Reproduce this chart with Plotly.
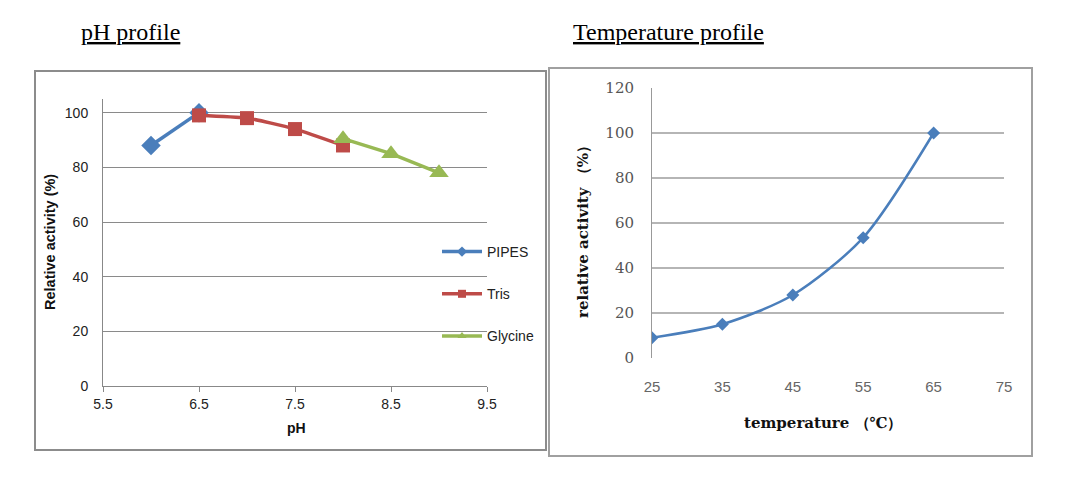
import plotly.graph_objects as go

W, H = 1065, 488
def px(x): return x / W
def py(y): return 1 - y / H

# ---- data: pH profile ----
pipes_ph = [6.0, 6.5]
pipes_act = [88, 100]
tris_ph = [6.5, 7.0, 7.5, 8.0]
tris_act = [99, 98, 94, 88]
gly_ph = [8.0, 8.5, 9.0]
gly_act = [90.5, 85, 78]
ph_ticks = [5.5, 6.5, 7.5, 8.5, 9.5]
ph_ytick = [0, 20, 40, 60, 80, 100]
series_names = ["PIPES", "Tris", "Glycine"]

# ---- data: temperature profile ----
temp = [25, 35, 45, 55, 65]
temp_act = [9, 15, 28, 53.5, 100]
temp_xticks = [25, 35, 45, 55, 65, 75]
temp_yticks = [0, 20, 40, 60, 80, 100, 120]

BLUE = "#4A7EBB"
RED = "#BE4B48"
GREEN = "#98B954"

fig = go.Figure()
fig.add_trace(go.Scatter(x=pipes_ph, y=pipes_act, name=series_names[0], mode="lines+markers",
                         line=dict(color=BLUE, width=3.5),
                         marker=dict(symbol="diamond", size=15, color=BLUE),
                         showlegend=False, xaxis="x", yaxis="y"))
fig.add_trace(go.Scatter(x=tris_ph, y=tris_act, name=series_names[1], mode="lines+markers",
                         line=dict(color=RED, width=3.5, shape="spline", smoothing=0.6),
                         marker=dict(symbol="square", size=14, color=RED),
                         showlegend=False, xaxis="x", yaxis="y"))
fig.add_trace(go.Scatter(x=gly_ph, y=gly_act, name=series_names[2], mode="lines+markers",
                         line=dict(color=GREEN, width=3.5),
                         marker=dict(symbol="triangle-up", size=17, color=GREEN),
                         showlegend=False, xaxis="x", yaxis="y"))
# legend entries (small markers like the original legend)
for nm, col, sym, grp in [(series_names[0], BLUE, "diamond", "a"),
                          (series_names[1], RED, "square", "b"),
                          (series_names[2], GREEN, "triangle-up", "c")]:
    fig.add_trace(go.Scatter(x=[None], y=[None], name=nm, mode="lines+markers",
                             line=dict(color=col, width=3.5),
                             marker=dict(symbol=sym, size=8, color=col),
                             legendgroup=grp, showlegend=True, xaxis="x", yaxis="y"))
fig.add_trace(go.Scatter(x=temp, y=temp_act, name="temp", mode="lines+markers",
                         line=dict(color=BLUE, width=2.5, shape="spline", smoothing=0.8),
                         marker=dict(symbol="diamond", size=10, color=BLUE),
                         showlegend=False, xaxis="x2", yaxis="y2"))

sans = "Liberation Sans, Arial, sans-serif"
serif = "Liberation Serif, Times New Roman, serif"
wserif = "DejaVu Serif, serif"

fig.update_layout(
    width=W, height=H,
    margin=dict(l=0, r=0, t=0, b=0, autoexpand=False),
    paper_bgcolor="white", plot_bgcolor="white",
    showlegend=True,
    legend=dict(x=px(437), y=py(236), xanchor="left", yanchor="top",
                font=dict(family=sans, size=14, color="#222"),
                tracegroupgap=21, bgcolor="rgba(0,0,0,0)", itemwidth=40),
    xaxis=dict(domain=[px(103), px(487)], range=[5.5, 9.5], tickvals=ph_ticks,
               ticktext=[str(v) for v in ph_ticks],
               showgrid=False, zeroline=False, showline=True, linecolor="#888", linewidth=1,
               ticks="outside", ticklen=5, tickcolor="#888",
               tickfont=dict(family=sans, size=14, color="#222"),
               automargin=False, fixedrange=True, anchor="y"),
    yaxis=dict(domain=[py(386), py(99)], range=[0, 105], tickvals=ph_ytick,
               showgrid=True, gridcolor="#8a8a8a", gridwidth=1, zeroline=False,
               showline=True, linecolor="#888", linewidth=1, ticks="",
               tickfont=dict(family=sans, size=14, color="#222"),
               ticklabelstandoff=11, automargin=False, fixedrange=True, anchor="x"),
    xaxis2=dict(domain=[px(652), px(1004)], range=[25, 75], tickvals=temp_xticks,
                showgrid=False, zeroline=False, showline=False, ticks="",
                tickfont=dict(family=sans, size=15, color="#666"),
                ticklabelstandoff=18, automargin=False, fixedrange=True, anchor="y2"),
    yaxis2=dict(domain=[py(358), py(88)], range=[0, 120], tickvals=temp_yticks,
                showgrid=True, gridcolor="#b5b5b5", gridwidth=1.5, zeroline=False,
                showline=True, linecolor="#999", linewidth=1, ticks="",
                tickfont=dict(family=wserif, size=15, color="#555"),
                ticklabelstandoff=14, automargin=False, fixedrange=True, anchor="x2"),
    shapes=[
        dict(type="rect", xref="paper", yref="paper", x0=px(35), x1=px(546), y0=py(450), y1=py(71),
             line=dict(color="#8c8c8c", width=2), layer="below"),
        dict(type="rect", xref="paper", yref="paper", x0=px(549), x1=px(1032), y0=py(456), y1=py(68),
             line=dict(color="#a0a0a0", width=2), layer="below"),
    ],
    annotations=[
        dict(text="<u>pH profile</u>", x=px(79), y=py(32), xref="paper", yref="paper",
             xanchor="left", yanchor="middle", showarrow=False,
             font=dict(family=serif, size=24, color="black")),
        dict(text="<u>Temperature profile</u>", x=px(571), y=py(32), xref="paper", yref="paper",
             xanchor="left", yanchor="middle", showarrow=False,
             font=dict(family=serif, size=24, color="black")),
        dict(text="<b>Relative activity (%)</b>", x=px(50), y=py(242), xref="paper", yref="paper",
             xanchor="center", yanchor="middle",
             textangle=-90, showarrow=False, font=dict(family=sans, size=14.5, color="#111")),
        dict(text="<b>pH</b>", x=px(296), y=py(428), xref="paper", yref="paper",
             xanchor="center", yanchor="middle",
             showarrow=False, font=dict(family=sans, size=14, color="#111")),
        dict(text="<b>relative activity （%）</b>", x=px(583), y=py(228), xref="paper", yref="paper",
             xanchor="center", yanchor="middle",
             textangle=-90, showarrow=False, font=dict(family=wserif, size=15, color="#111")),
        dict(text="<b>temperature （℃）</b>", x=px(823), y=py(423), xref="paper", yref="paper",
             xanchor="center", yanchor="middle",
             showarrow=False, font=dict(family=wserif, size=15, color="#111")),
    ],
)

fig.write_html("out.html", config={"displayModeBar": False},
               post_script="document.body.style.margin='0';")
